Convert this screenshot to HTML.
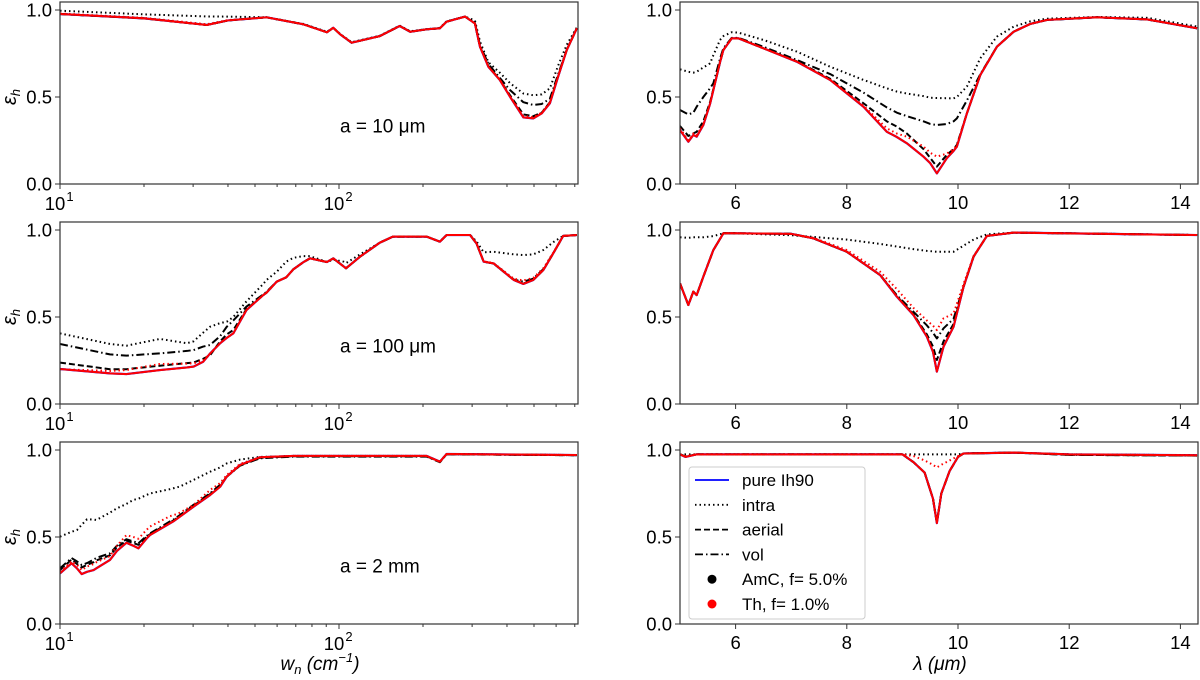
<!DOCTYPE html>
<html><head><meta charset="utf-8"><style>
body{margin:0;background:#fff;}
svg{display:block;font-family:"Liberation Sans","DejaVu Sans",sans-serif;}
</style></head><body>
<svg id="fig" width="1200" height="680" viewBox="0 0 1200 680" xmlns="http://www.w3.org/2000/svg"></svg>
<script>
// ---------- Data: left panels (wavenumber, cm^-1) ----------
const w10 = [10,20,33.6,40,55,74.5,90.5,95.4,101,111,140,165,180,206,230,243,283,307,320,343,377,410,458,497,533,570,610,655,712];
const pure10 = [0.977,0.952,0.914,0.94,0.958,0.918,0.872,0.898,0.86,0.812,0.85,0.908,0.875,0.889,0.895,0.933,0.962,0.923,0.79,0.674,0.598,0.502,0.383,0.377,0.406,0.464,0.617,0.77,0.895];
const intra10 = [0.996,0.975,0.963,0.962,0.958,0.92,0.875,0.898,0.862,0.815,0.852,0.91,0.878,0.89,0.897,0.935,0.962,0.94,0.82,0.70,0.64,0.58,0.52,0.51,0.515,0.55,0.68,0.80,0.90];
const vol10 = [0.977,0.952,0.914,0.94,0.958,0.918,0.872,0.898,0.86,0.812,0.85,0.908,0.875,0.889,0.895,0.933,0.962,0.925,0.80,0.69,0.61,0.54,0.47,0.454,0.46,0.49,0.63,0.77,0.895];
const aerial10 = [0.977,0.952,0.914,0.94,0.958,0.918,0.872,0.898,0.86,0.812,0.85,0.908,0.875,0.889,0.895,0.933,0.962,0.923,0.79,0.678,0.60,0.51,0.40,0.39,0.41,0.47,0.62,0.77,0.895];
const thIntra10 = [0.98,0.955,0.918,0.942,0.958,0.918,0.872,0.898,0.86,0.812,0.85,0.908,0.875,0.889,0.895,0.933,0.962,0.923,0.79,0.675,0.60,0.505,0.39,0.385,0.41,0.47,0.62,0.77,0.895];

const w100 = [10,15.1,17.3,22.8,28.5,30.1,32.6,34.5,37.5,39.6,41.8,46.6,53.5,55,59.8,64.7,68.6,74.5,78.7,90.5,95.4,104,106,119,140,156,206,230,243,295,311,330,358,423,458,497,540,586,636,712];
const pure100 = [0.201,0.176,0.172,0.195,0.21,0.215,0.243,0.29,0.349,0.38,0.406,0.54,0.626,0.64,0.703,0.728,0.774,0.815,0.837,0.816,0.837,0.79,0.78,0.847,0.927,0.962,0.962,0.933,0.971,0.971,0.923,0.818,0.808,0.713,0.69,0.713,0.77,0.866,0.966,0.971];
const intra100 = [0.406,0.345,0.335,0.374,0.349,0.36,0.41,0.444,0.465,0.473,0.5,0.59,0.69,0.713,0.76,0.818,0.84,0.85,0.85,0.816,0.83,0.818,0.81,0.86,0.927,0.962,0.962,0.933,0.971,0.971,0.935,0.872,0.875,0.86,0.856,0.86,0.885,0.93,0.966,0.971];
const vol100 = [0.345,0.285,0.278,0.291,0.305,0.31,0.33,0.339,0.39,0.444,0.48,0.56,0.63,0.645,0.703,0.728,0.774,0.815,0.837,0.816,0.837,0.79,0.78,0.847,0.927,0.962,0.962,0.933,0.971,0.971,0.923,0.818,0.808,0.715,0.703,0.72,0.775,0.866,0.966,0.971];
const aerial100 = [0.238,0.2,0.2,0.22,0.235,0.238,0.26,0.28,0.36,0.4,0.425,0.545,0.626,0.64,0.703,0.728,0.774,0.815,0.837,0.816,0.837,0.79,0.78,0.847,0.927,0.962,0.962,0.933,0.971,0.971,0.923,0.818,0.808,0.713,0.692,0.713,0.77,0.866,0.966,0.971];
const thIntra100 = [0.2,0.19,0.195,0.23,0.232,0.234,0.25,0.29,0.35,0.38,0.406,0.54,0.626,0.64,0.703,0.728,0.774,0.815,0.837,0.816,0.837,0.79,0.78,0.847,0.927,0.962,0.962,0.933,0.971,0.971,0.923,0.82,0.81,0.72,0.71,0.725,0.78,0.87,0.966,0.971];

const w2 = [10,11.0,11.5,11.96,12.5,13.2,13.5,15.1,16,17.3,18.3,19.1,20.4,21.0,24.8,25.5,26.9,30.1,34.5,37.5,39.6,44.2,52,68.6,150,206,230,243,712];
const pure2 = [0.291,0.349,0.32,0.287,0.3,0.31,0.32,0.368,0.42,0.467,0.45,0.435,0.49,0.511,0.579,0.59,0.617,0.674,0.741,0.789,0.847,0.914,0.958,0.966,0.966,0.966,0.933,0.977,0.971];
const intra2 = [0.502,0.53,0.54,0.57,0.602,0.6,0.598,0.64,0.665,0.69,0.713,0.72,0.741,0.75,0.775,0.78,0.79,0.828,0.875,0.9,0.923,0.945,0.96,0.966,0.966,0.966,0.933,0.977,0.971];
const vol2 = [0.32,0.379,0.36,0.339,0.35,0.37,0.38,0.406,0.45,0.487,0.475,0.464,0.505,0.52,0.59,0.6,0.626,0.685,0.751,0.8,0.847,0.91,0.952,0.962,0.962,0.962,0.93,0.975,0.97];
const aerial2 = [0.31,0.37,0.345,0.325,0.34,0.355,0.365,0.395,0.44,0.48,0.465,0.455,0.5,0.515,0.585,0.595,0.62,0.68,0.746,0.795,0.847,0.912,0.955,0.964,0.964,0.964,0.932,0.976,0.97];
const thIntra2 = [0.30,0.36,0.34,0.31,0.33,0.345,0.355,0.39,0.45,0.511,0.5,0.49,0.54,0.56,0.62,0.625,0.64,0.684,0.77,0.81,0.856,0.92,0.958,0.966,0.966,0.966,0.933,0.977,0.971];

// ---------- Data: right panels (wavelength, um) ----------
const l10 = [5.0,5.15,5.24,5.3,5.42,5.54,5.6,5.72,5.78,5.93,6.05,6.5,7.1,7.7,8.3,8.72,8.9,9.08,9.38,9.5,9.62,9.8,9.92,9.98,10.16,10.4,10.7,11.0,11.3,11.6,12.5,13.4,14.3];
const pureR10 = [0.31,0.243,0.282,0.272,0.339,0.46,0.54,0.70,0.77,0.837,0.837,0.78,0.703,0.598,0.444,0.30,0.27,0.234,0.157,0.12,0.061,0.149,0.19,0.215,0.406,0.626,0.789,0.875,0.92,0.943,0.958,0.946,0.895];
const intraR10 = [0.659,0.645,0.64,0.645,0.67,0.693,0.74,0.828,0.85,0.872,0.87,0.828,0.761,0.674,0.598,0.55,0.531,0.52,0.505,0.496,0.494,0.493,0.492,0.5,0.56,0.722,0.847,0.904,0.935,0.95,0.96,0.955,0.905];
const volR10 = [0.425,0.40,0.41,0.444,0.5,0.55,0.579,0.72,0.78,0.84,0.84,0.789,0.713,0.632,0.525,0.44,0.41,0.39,0.36,0.345,0.339,0.345,0.36,0.377,0.48,0.63,0.789,0.875,0.92,0.943,0.958,0.946,0.895];
const aerialR10 = [0.333,0.276,0.291,0.3,0.36,0.47,0.545,0.70,0.77,0.837,0.837,0.78,0.705,0.605,0.464,0.36,0.33,0.29,0.2,0.15,0.1,0.168,0.2,0.225,0.406,0.626,0.789,0.875,0.92,0.943,0.958,0.946,0.895];
const thIntraR10 = [0.32,0.25,0.29,0.28,0.345,0.46,0.54,0.70,0.77,0.837,0.837,0.78,0.703,0.6,0.45,0.32,0.29,0.272,0.215,0.18,0.157,0.175,0.2,0.22,0.406,0.626,0.789,0.875,0.92,0.943,0.958,0.946,0.895];

const l100 = [5.0,5.15,5.24,5.3,5.42,5.6,5.78,6.0,7.0,7.4,8.0,8.6,8.9,9.2,9.44,9.55,9.62,9.74,9.92,10.1,10.28,10.52,11.0,14.3];
const pureR100 = [0.693,0.569,0.646,0.626,0.732,0.885,0.981,0.981,0.978,0.952,0.875,0.741,0.617,0.511,0.387,0.3,0.186,0.33,0.444,0.674,0.847,0.966,0.985,0.971];
const intraR100 = [0.958,0.955,0.958,0.958,0.958,0.965,0.981,0.981,0.97,0.96,0.945,0.92,0.905,0.89,0.88,0.877,0.875,0.875,0.875,0.91,0.945,0.975,0.985,0.971];
const volR100 = [0.693,0.569,0.646,0.626,0.732,0.885,0.981,0.981,0.978,0.952,0.875,0.741,0.625,0.53,0.452,0.41,0.377,0.435,0.49,0.674,0.847,0.966,0.985,0.971];
const aerialR100 = [0.693,0.569,0.646,0.626,0.732,0.885,0.981,0.981,0.978,0.952,0.875,0.741,0.62,0.515,0.4,0.33,0.253,0.36,0.46,0.674,0.847,0.966,0.985,0.971];
const thIntraR100 = [0.693,0.57,0.646,0.626,0.732,0.885,0.981,0.981,0.978,0.955,0.885,0.76,0.66,0.552,0.48,0.45,0.425,0.492,0.52,0.69,0.85,0.966,0.985,0.971];

const l2 = [5.0,5.1,5.3,9.0,9.2,9.4,9.55,9.62,9.7,9.85,10.0,10.1,11.0,12.0,14.3];
const pureR2 = [0.975,0.96,0.975,0.975,0.93,0.87,0.72,0.58,0.75,0.88,0.96,0.98,0.985,0.975,0.97];
const intraR2 = [0.975,0.975,0.975,0.975,0.975,0.975,0.975,0.975,0.975,0.975,0.975,0.98,0.985,0.975,0.97];
const volR2 = [0.975,0.962,0.975,0.975,0.93,0.87,0.72,0.585,0.75,0.88,0.96,0.98,0.985,0.972,0.968];
const aerialR2 = [0.975,0.962,0.975,0.975,0.93,0.87,0.72,0.582,0.75,0.88,0.96,0.98,0.985,0.972,0.968];
const thIntraR2 = [0.975,0.965,0.975,0.975,0.965,0.94,0.915,0.9,0.915,0.94,0.965,0.98,0.985,0.975,0.97];

const yTicks = [0, 0.5, 1.0];
const yTickLabels = ["0.0", "0.5", "1.0"];
const rightTicks = [6, 8, 10, 12, 14];
const panelLabels = ["a = 10 \u03bcm", "a = 100 \u03bcm", "a = 2 mm"];

const NS = "http://www.w3.org/2000/svg";
const fig = document.getElementById('fig');
function mk(tag, attrs, parent){const e=document.createElementNS(NS,tag);for(const k in attrs)e.setAttribute(k,attrs[k]);(parent||fig).appendChild(e);return e;}

const ROW0 = [184, 404, 624];
const PXU = 174;
const YTOP = 1.046;
const FS = 18.5;

function yS(r,v){return ROW0[r]-v*PXU;}
function xLog(w){return 60 + 279*Math.log10(w/10);}
function xLin(l){return 680 + 55.6*(l-5);}

function line(g, xs, ys, xf, r, color, dash, width, name){
  let d='';
  for(let i=0;i<xs.length;i++){d+=(i?'L':'M')+xf(xs[i]).toFixed(2)+','+yS(r,ys[i]).toFixed(2);}
  const p=mk('path',{d:d,fill:'none',stroke:color,'stroke-width':width,'stroke-dasharray':dash,'stroke-linejoin':'round'},g);
  
  
}

function panel(r, side, xs, pure, intra, aerial, vol, thI){
  const left = side==='L';
  const x0 = left?60:680, x1 = left?578:1198;
  const xf = left?xLog:xLin;
  const g = mk('g',{});
  
  
  const clipId='c'+side+r;
  const cp=mk('clipPath',{id:clipId},g);
  mk('rect',{x:x0,y:yS(r,YTOP),width:x1-x0,height:YTOP*PXU},cp);
  const sg=mk('g',{'clip-path':'url(#'+clipId+')'},g);
  
  
  line(sg, xs, pure, xf, r, '#0000ff', 'none', 2.2, 'pure-ih90-line');
  line(sg, xs, intra, xf, r, '#000', '1.5,3', 2, 'amc-intra-line');
  line(sg, xs, aerial, xf, r, '#000', '6,3', 2, 'amc-aerial-line');
  line(sg, xs, vol, xf, r, '#000', '8,3,1.5,3', 2, 'amc-vol-line');
  line(sg, xs, pure, xf, r, '#ff0000', 'none', 2, 'th-aerial-line');
  line(sg, xs, thI, xf, r, '#ff0000', '1.5,3', 2, 'th-intra-line');
  const fr=mk('rect',{x:x0,y:yS(r,YTOP),width:x1-x0,height:YTOP*PXU,fill:'none',stroke:'#333','stroke-width':1.2},g);
  
  
  for(let i=0;i<yTicks.length;i++){
    const y=yS(r,yTicks[i]);
    mk('line',{x1:x0-5,x2:x0,y1:y,y2:y,stroke:'#333','stroke-width':1},g);
    const t=mk('text',{x:x0-8,y:y+6.5,'text-anchor':'end','font-size':FS,fill:'#000'},g);
    t.textContent=yTickLabels[i];
    
    
  }
  const yb=ROW0[r];
  if(left){
    for(let dec=10;dec<=100;dec*=10){
      for(let m=1;m<10;m++){
        const w=dec*m; if(w>720) break;
        const x=xLog(w);
        mk('line',{x1:x,x2:x,y1:yb,y2:yb+(m===1?5:3),stroke:'#333','stroke-width':1},g);
      }
      const t=mk('text',{x:xLog(dec)-5,y:yb+26,'text-anchor':'middle','font-size':FS,fill:'#000'},g);
      t.textContent='10';
      
      
      const s=mk('text',{x:xLog(dec)+10,y:yb+17,'text-anchor':'middle','font-size':13,fill:'#000'},g);
      s.textContent=dec===10?'1':'2';
    }
    const at=mk('text',{x:340,y:yS(r,0.33)+6,'font-size':19,fill:'#000'},g);
    at.textContent=panelLabels[r];
    
    
    const yl=mk('text',{x:0,y:0,'font-size':20,'font-style':'italic',fill:'#000','text-anchor':'middle',transform:'translate(16,'+(ROW0[r]-87)+') rotate(-90)'},g);
    yl.innerHTML='\u03b5<tspan font-size="13" dy="4">h</tspan>';
    
    
  } else {
    for(const v of rightTicks){
      const x=xLin(v);
      mk('line',{x1:x,x2:x,y1:yb,y2:yb+5,stroke:'#333','stroke-width':1},g);
      const t=mk('text',{x:x,y:yb+25,'text-anchor':'middle','font-size':FS,fill:'#000'},g);
      t.textContent=String(v);
      
      
    }
  }
}

panel(0,'L',w10,pure10,intra10,aerial10,vol10,thIntra10);
panel(1,'L',w100,pure100,intra100,aerial100,vol100,thIntra100);
panel(2,'L',w2,pure2,intra2,aerial2,vol2,thIntra2);
panel(0,'R',l10,pureR10,intraR10,aerialR10,volR10,thIntraR10);
panel(1,'R',l100,pureR100,intraR100,aerialR100,volR100,thIntraR100);
panel(2,'R',l2,pureR2,intraR2,aerialR2,volR2,thIntraR2);

const xt1=mk('text',{x:320,y:670,'text-anchor':'middle','font-size':19,'font-style':'italic',fill:'#000'});
xt1.innerHTML='w<tspan font-size="13" dy="4">n</tspan><tspan dy="-4"> (cm</tspan><tspan font-size="13" dy="-8">\u22121</tspan><tspan dy="8">)</tspan>';


const xt2=mk('text',{x:940,y:670,'text-anchor':'middle','font-size':19,'font-style':'italic',fill:'#000'});
xt2.textContent='\u03bb (\u03bcm)';



const lg=mk('g',{});


mk('rect',{x:689,y:467,width:176,height:152,rx:3,fill:'#fff','fill-opacity':0.85,stroke:'#ccc','stroke-width':1},lg);
const legItems=[['pure Ih90','#0000ff','none','line'],['intra','#000','1.5,3','line'],['aerial','#000','6,3','line'],['vol','#000','8,3,1.5,3','line'],['AmC, f= 5.0%','#000','','dot'],['Th, f= 1.0%','#ff0000','','dot']];
legItems.forEach((it,i)=>{
  const y=480+i*24.8;
  const e=mk('g',{},lg);
  
  
  if(it[3]==='line') mk('line',{x1:695,x2:729,y1:y,y2:y,stroke:it[1],'stroke-width':1.8,'stroke-dasharray':it[2]},e);
  else mk('circle',{cx:712,cy:y,r:4.5,fill:it[1]},e);
  const t=mk('text',{x:742,y:y+6,'font-size':17,fill:'#000'},e);
  t.textContent=it[0];
});
</script>
</body></html>
